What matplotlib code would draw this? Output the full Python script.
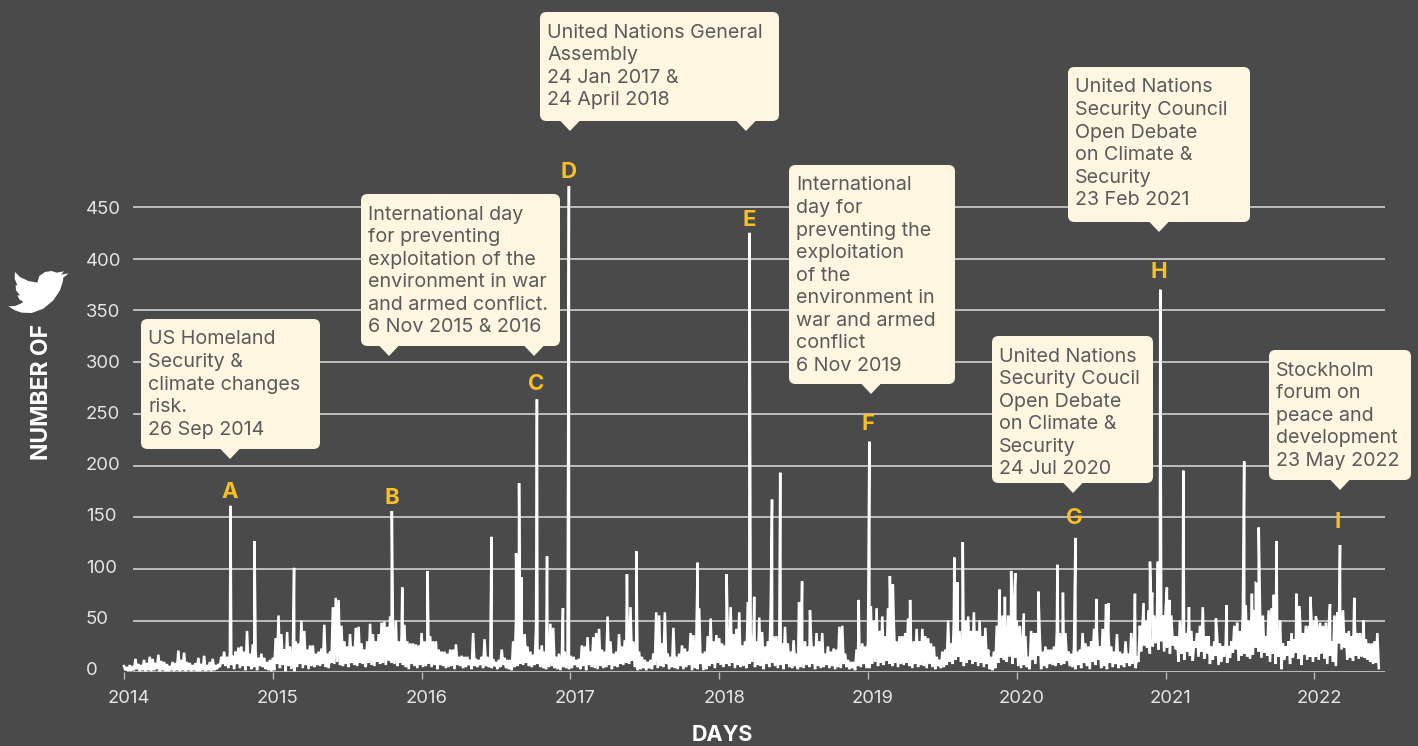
import matplotlib
matplotlib.use("Agg")
import matplotlib.pyplot as plt
import numpy as np
from matplotlib.patches import FancyBboxPatch, Polygon
from matplotlib.transforms import ScaledTranslation

FONT = ["Inter", "DejaVu Sans"]
plt.rcParams["font.family"] = FONT

BG = "#4a4a4a"
BOX = "#fff6e1"
BOXTXT = "#5a5a5a"
GOLD = "#f6c026"
SOFT = "#e6e6e6"

year_labels = [2014, 2015, 2016, 2017, 2018, 2019, 2020, 2021, 2022]
y_ticks = [0, 50, 100, 150, 200, 250, 300, 350, 400, 450]

# weekly upper and lower reading of the daily tweet count band
high_2014 = [6,5,7,6,13,8,7,12,9,15,13,9,17,11,10,8,6,10,9,21,12,19,10,9,7,9,14,8,16,7,10,13,7,8,15,20,15,18,16,20,24,25,20,40,18,27,20,14,18,14,10,12]
low_2014 = [2,1,1,2,3,1,2,1,2,1,2,3,1,2,1,1,2,1,2,1,2,1,2,1,2,1,1,2,1,2,1,2,3,5,8,6,4,7,3,8,4,6,2,6,3,5,2,6,5,3,2,1]
high_2015 = [14,33,55,37,22,39,25,20,30,28,50,40,22,26,26,18,20,23,46,18,20,63,72,70,45,30,25,37,25,43,44,28,22,30,47,37,30,37,48,49,44,54,40,50,30,35,46,30,28,28,27,26]
low_2015 = [2,8,4,7,1,6,3,1,5,8,4,7,3,6,5,7,6,8,5,4,9,8,10,7,6,8,5,9,7,6,9,8,5,9,7,6,10,8,9,7,11,9,8,6,9,7,5,3,8,6,4,7]
high_2016 = [38,30,33,35,30,30,22,20,20,18,22,22,27,15,16,15,15,12,38,13,12,15,32,15,12,13,10,12,22,14,12,12,30,52,55,40,37,25,20,17,44,22,26,20,18,47,43,15,18,15,20,16]
low_2016 = [5,6,8,5,7,3,7,6,4,5,6,3,7,6,4,5,7,3,6,5,7,4,6,5,4,6,3,5,7,4,3,2,5,6,8,7,9,6,5,7,8,5,4,3,5,6,4,3,2,5,4,3]
high_2017 = [16,15,12,13,26,25,34,20,34,38,42,22,20,54,30,18,20,37,25,31,40,63,30,25,20,15,12,10,12,18,58,55,28,58,18,15,43,15,18,26,23,20,38,36,30,62,18,20,35,52,30,36]
low_2017 = [4,7,5,3,6,2,7,5,4,3,6,4,5,7,3,6,5,8,7,9,8,11,5,2,3,4,2,4,3,7,4,6,5,8,3,5,4,3,6,3,5,7,2,4,3,8,2,3,6,8,4,9]
high_2018 = [33,28,26,30,63,37,42,58,26,30,68,38,38,30,53,39,25,30,63,35,35,30,28,44,28,20,31,18,30,30,30,25,40,25,38,30,38,18,25,20,23,22,44,45,18,12,10,10,22,25,28,25]
low_2018 = [7,5,8,6,9,4,7,5,6,4,8,10,5,7,6,3,8,5,9,6,4,7,3,8,5,4,6,3,5,4,7,5,8,3,6,4,5,7,4,6,3,5,4,8,5,3,4,2,6,5,8,4]
high_2019 = [30,64,50,62,40,54,35,62,45,50,30,35,35,38,52,30,30,42,30,42,35,33,28,25,15,12,20,22,50,28,50,35,40,30,50,54,40,58,40,50,35,43,22,15,20,45,50,55,40,55,60,65]
low_2019 = [4,8,10,6,9,7,11,8,6,9,5,8,7,9,6,4,8,5,7,6,4,8,5,3,6,4,5,7,10,8,12,15,10,6,9,12,8,10,6,9,5,8,3,2,4,9,14,12,10,15,8,14]
high_2020 = [50,45,33,35,15,40,38,38,38,20,25,22,22,25,40,38,38,38,20,18,25,20,22,38,28,25,30,42,40,25,42,45,40,25,20,37,20,18,30,18,38,30,15,45,48,50,60,65,55,55,65,55]
low_2020 = [6,4,7,5,3,12,8,16,3,6,4,8,7,6,9,7,8,11,6,5,3,7,4,9,6,3,10,7,12,4,6,3,9,5,8,4,7,5,9,6,8,4,10,20,26,24,18,25,28,22,30,20]
high_2021 = [60,55,55,35,35,50,35,38,45,40,30,38,45,63,35,35,25,30,35,28,25,28,25,30,45,48,40,58,65,50,55,60,85,60,55,35,60,62,50,40,50,28,25,30,38,32,55,50,38,45,45,50]
low_2021 = [24,18,26,22,10,18,12,20,16,11,24,15,20,13,18,8,12,16,7,10,15,9,14,19,22,11,16,18,15,13,17,24,20,14,19,16,10,18,8,15,3,12,16,8,14,19,13,7,17,12,15,10]
high_2022 = [50,45,48,45,48,45,30,55,58,60,60,38,40,35,58,38,38,35,32,28,28,30,38]
low_2022 = [15,12,18,13,8,16,10,6,28,22,24,12,14,11,16,13,15,14,12,10,8,9,4]

spike_years = [2014.716,2014.877,2015.143,2015.80,2015.87,2016.04,2016.47,2016.635,2016.655,2016.67,2016.775,2016.843,2016.95,2016.99,
               2017.38,2017.443,2017.855,2018.05,2018.204,2018.235,2018.355,2018.41,2018.537,2018.557,2018.61,2018.937,2019.009,2019.147,2019.167,2019.283,
               2019.58,2019.60,2019.637,2019.884,2019.92,2019.962,2019.99,2020.047,2020.145,2020.273,2020.31,2020.394,2020.535,2020.60,2020.615,2020.794,
               2020.852,2020.895,2020.91,2020.948,2020.964,2021.009,2021.027,2021.119,2021.157,2021.25,2021.338,2021.41,2021.528,2021.58,2021.606,2021.626,
               2021.727,2021.745,2021.879,2021.897,2021.973,2022.01,2022.105,2022.172,2022.268,2022.33]
spike_counts = [161,127,101,156,82,98,131,115,183,92,264,112,62,470,
                95,117,106,95,425,73,167,193,68,88,60,70,223,93,85,70,
                111,87,126,80,73,98,96,57,78,104,77,130,71,66,67,76,
                67,107,77,107,370,82,70,195,63,63,52,65,204,76,86,140,
                75,127,76,64,73,54,66,123,72,50]

callouts = [
    ("US Homeland\nSecurity &\nclimate changes\nrisk.\n26 Sep 2014", (141, 319, 320, 449), [230]),
    ("International day\nfor preventing\nexploitation of the\nenvironment in war\nand armed conflict.\n6 Nov 2015 & 2016", (361, 194, 560, 346), [389, 534]),
    ("United Nations General\nAssembly\n24 Jan 2017 &\n24 April 2018", (540, 12, 779, 121), [570, 746]),
    ("International\nday for\npreventing the\nexploitation\nof the\nenvironment in\nwar and armed\nconflict\n6 Nov 2019", (789, 165, 955, 384), [871]),
    ("United Nations\nSecurity Council\nOpen Debate\non Climate &\nSecurity\n23 Feb 2021", (1068, 67, 1250, 222), [1159]),
    ("United Nations\nSecurity Coucil\nOpen Debate\non Climate &\nSecurity\n24 Jul 2020", (992, 336, 1153, 483), [1073]),
    ("Stockholm\nforum on\npeace and\ndevelopment\n23 May 2022", (1269, 350, 1411, 480), [1340]),
]
letters = [("A", 230, 492.5), ("B", 392, 497.5), ("C", 536, 383.5), ("D", 569, 172.5), ("E", 749, 219.5),
           ("F", 868, 424.5), ("G", 1074, 518.5), ("H", 1159, 271.5), ("I", 1338, 521.5)]
bird = [(45,30),(60,45),(85,57),(112,62),(118,42),(135,30),(155,27),(170,32),(192,28),(183,38),(206,34),(190,47),(188,60),
        (180,85),(160,115),(130,140),(95,153),(65,152),(45,145),(25,133),(45,132),(62,125),(70,120),(58,112),(52,100),(60,100),
        (48,85),(47,70),(52,70),(44,50)]

W, H = 1418, 746
fig = plt.figure(figsize=(W / 100, H / 100), dpi=100, facecolor=BG)
X0, X1, Y0, Y450 = 124, 1385, 672.3, 207.0
YTOP = 140.0
units = (Y0 - Y450) / 450
ax = fig.add_axes([X0 / W, 1 - Y0 / H, (X1 - X0) / W, (Y0 - YTOP) / H], facecolor="none")
ax.set_xlim(2014, 2014 + (X1 - X0) / 148.8)
ax.set_ylim(0, (Y0 - YTOP) / units)

# assemble the zigzag series
xs, ys = [], []
yearly = [(2014, high_2014, low_2014), (2015, high_2015, low_2015), (2016, high_2016, low_2016),
          (2017, high_2017, low_2017), (2018, high_2018, low_2018), (2019, high_2019, low_2019),
          (2020, high_2020, low_2020), (2021, high_2021, low_2021), (2022, high_2022, low_2022)]
for yr, hi, lo in yearly:
    for i, (h, l) in enumerate(zip(hi, lo)):
        xs += [yr + i / 52, yr + (i + 0.5) / 52]
        ys += [h, l]
xs = np.array(list(xs) + spike_years)
ys = np.array(list(ys) + spike_counts)
order = np.argsort(xs)

for s in ax.spines.values():
    s.set_visible(False)
ax.hlines(y_ticks, 9 / (X1 - X0), 1, transform=ax.get_yaxis_transform(), color="#dcdcdc", lw=1.1, zorder=1)
ax.plot(xs[order], ys[order], color="white", lw=1.8, solid_joinstyle="miter", zorder=2, clip_on=False)

ax.set_xticks(year_labels)
ax.set_xticklabels([str(y) for y in year_labels], fontsize=13.3, color=SOFT)
ax.tick_params(axis="x", length=5, width=1, color="#bdbdbd", pad=8)
shift = ScaledTranslation(5 / 100, 0, fig.dpi_scale_trans)
for lab in ax.get_xticklabels():
    lab.set_transform(lab.get_transform() + shift)
ax.set_yticks(y_ticks)
ax.set_yticklabels([str(v) for v in y_ticks], fontsize=13.3, color=SOFT, ha="left")
ax.tick_params(axis="y", length=0, pad=27.5)
for v, lab in zip(y_ticks, ax.get_yticklabels()):
    lift = ScaledTranslation(0, (4 - 5 * v / 450) / 100, fig.dpi_scale_trans)
    lab.set_transform(lab.get_transform() + lift)

# overlay in pixel coordinates for annotations
ov = fig.add_axes([0, 0, 1, 1], facecolor="none", zorder=5)
ov.set_xlim(0, W)
ov.set_ylim(H, 0)
ov.axis("off")
for txt, (x0, y0, x1, y1), tips in callouts:
    ov.add_patch(FancyBboxPatch((x0, y0), x1 - x0, y1 - y0, boxstyle="round,pad=0,rounding_size=6.5",
                                fc=BOX, ec="none", zorder=3))
    for t in tips:
        ov.add_patch(Polygon([(t - 10, y1 - 0.5), (t + 10, y1 - 0.5), (t, y1 + 10)], fc=BOX, ec="none", zorder=3))
    ov.text(x0 + 7, y0 + 11.5, txt, ha="left", va="top", fontsize=14.2, color=BOXTXT, linespacing=1.325, zorder=4)
for ch, x, y in letters:
    ov.text(x, y, ch, ha="center", va="center", fontsize=16, fontweight="bold", color=GOLD, zorder=4)
ov.add_patch(Polygon([(x / 3, 262 + y / 3) for x, y in bird], fc="white", ec="none"))
ov.text(42, 392, "NUMBER OF", rotation=90, ha="center", va="center", fontsize=16.5, fontweight="bold", color="white")
ov.text(722, 735, "DAYS", ha="center", va="center", fontsize=15.5, fontweight="bold", color="white")

fig.savefig("out.png", dpi=100, facecolor=BG)
